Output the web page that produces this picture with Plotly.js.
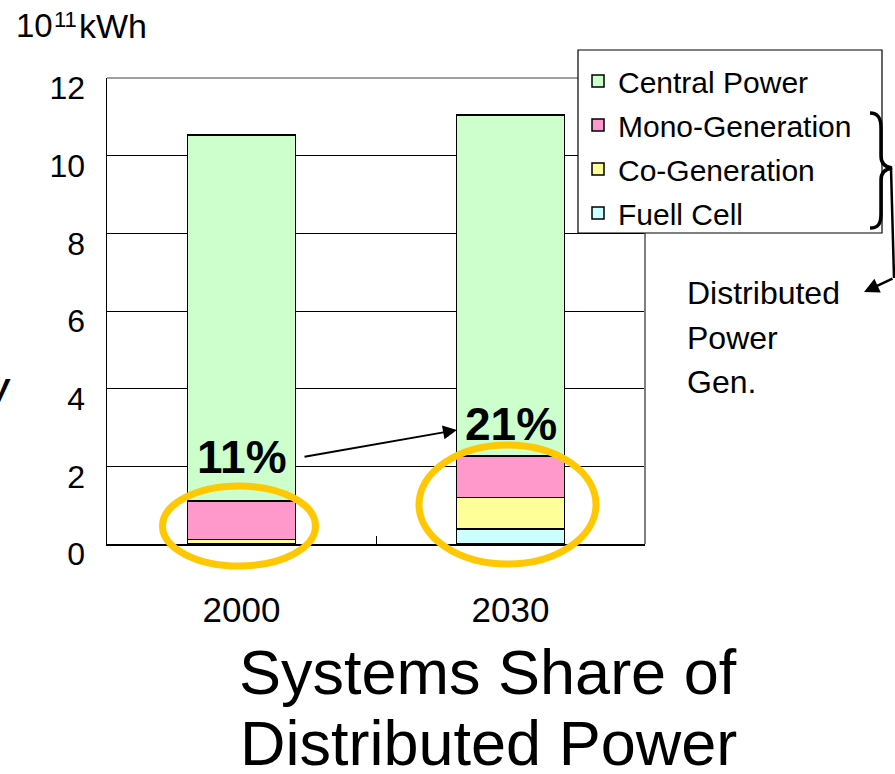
<!DOCTYPE html>
<html>
<head>
<meta charset="utf-8">
<script src="https://cdn.plot.ly/plotly-3.0.1.min.js"></script>
<style>html,body{margin:0;padding:0;background:#fff;}#chart{width:895px;height:774px;}</style>
</head>
<body>
<div id="chart"></div>
<script>
// ---- data ----
const years = ['2000', '2030'];
const fuelCell = [0.0, 0.38];
const coGeneration = [0.12, 0.82];
const monoGeneration = [0.99, 1.07];
const centralPower = [9.42, 8.78];
const seriesNames = ['Fuell Cell', 'Co-Generation', 'Mono-Generation', 'Central Power'];
const seriesColors = ['#CCFFFF', '#FFFF99', '#FF99CC', '#CCFFCC'];
const legendRanks = [4, 3, 2, 1];
const yTicks = [0, 2, 4, 6, 8, 10, 12];
const shareLabels = ['11%', '21%'];

// ---- layout helpers (pixel -> paper) ----
const L = 107, R = 645, T = 78, B = 544;
const px = x => (x - L) / (R - L);
const py = y => (B - y) / (B - T);
const FONT = 'Liberation Sans, Arial, sans-serif';

const values = [fuelCell, coGeneration, monoGeneration, centralPower];
const traces = values.map((v, i) => ({
  type: 'bar',
  x: years,
  y: v,
  name: seriesNames[i],
  legendgroup: 'g' + i,
  legendrank: legendRanks[i],
  marker: {color: seriesColors[i], line: {color: '#000', width: 1.5}},
  width: 0.4,
  hoverinfo: 'x+y+name'
}));

const ellipse = (x0, x1, y0, y1) => ({
  type: 'circle', xref: 'paper', yref: 'paper',
  x0: px(x0), x1: px(x1), y0: py(y1), y1: py(y0),
  line: {color: '#FFC800', width: 7}, layer: 'above'
});

const braceP = (pts) => pts.map(p => p[0] === 'C'
  ? 'C' + [px(p[1]), py(p[2]), px(p[3]), py(p[4]), px(p[5]), py(p[6])].join(',')
  : p[0] + px(p[1]) + ',' + py(p[2])).join(' ');

const bracePath = braceP([
  ['M', 870, 113], ['C', 878, 113, 881, 118, 881, 128], ['L', 881, 156],
  ['C', 881, 163, 885, 167, 892, 168], ['C', 885, 169, 881, 173, 881, 180],
  ['L', 881, 214], ['C', 881, 224, 878, 228, 870, 228]
]);

// bar centres in paper coords (category axis, range [-0.5, 1.5])
const catX = i => (i + 0.5) / years.length;

const layout = {
  width: 895, height: 774,
  margin: {l: L, r: 895 - R, t: T, b: 774 - B, pad: 0},
  paper_bgcolor: '#fff', plot_bgcolor: '#fff',
  barmode: 'stack',
  font: {family: FONT, color: '#000'},
  showlegend: true,
  legend: {
    x: px(578), y: py(55), xanchor: 'left', yanchor: 'top',
    borderwidth: 0, bgcolor: 'rgba(0,0,0,0)',
    font: {family: FONT, size: 30, color: '#000'},
    traceorder: 'grouped', tracegroupgap: 2,
    itemwidth: 30
  },
  xaxis: {
    type: 'category', range: [-0.5, 1.5],
    showline: true, linecolor: '#000', linewidth: 1.5,
    ticks: 'inside', tickson: 'boundaries', ticklen: 8, tickcolor: '#000',
    tickfont: {family: FONT, size: 35, color: '#000'},
    ticklabelstandoff: 34, showgrid: false, fixedrange: true
  },
  yaxis: {
    range: [0, 12], tickvals: yTicks, ticktext: yTicks.map(String),
    showline: true, linecolor: '#000', linewidth: 1.5,
    showgrid: true, gridcolor: '#000', gridwidth: 1,
    ticks: '', ticklabelstandoff: 14, ticklabelshift: 10,
    tickfont: {family: FONT, size: 32, color: '#000'},
    zeroline: false, fixedrange: true
  },
  shapes: [
    {type: 'line', xref: 'paper', yref: 'paper', x0: 0, x1: 1, y0: 1, y1: 1, line: {color: '#808080', width: 1.5}, layer: 'above'},
    {type: 'line', xref: 'paper', yref: 'paper', x0: 1, x1: 1, y0: 0, y1: 1, line: {color: '#808080', width: 2}, layer: 'above'},
    // legend frame
    {type: 'rect', xref: 'paper', yref: 'paper', x0: px(578), x1: px(882), y0: py(233), y1: py(50),
     fillcolor: '#fff', line: {color: '#000', width: 1.2}, layer: 'above'},
    ellipse(162.5, 315.5, 486, 566),
    ellipse(419, 596, 445, 564),
    {type: 'path', xref: 'paper', yref: 'paper', path: bracePath, line: {color: '#000', width: 3.5}, layer: 'above'},
    {type: 'line', xref: 'paper', yref: 'paper', x0: px(891), y0: py(168), x1: px(894), y1: py(278), line: {color: '#000', width: 2.5}}
  ],
  annotations: [
    {xref: 'paper', yref: 'paper', x: px(14), y: py(26), xanchor: 'left', yanchor: 'middle',
     text: '10', showarrow: false, font: {family: FONT, size: 33}},
    {xref: 'paper', yref: 'paper', x: px(52), y: py(20), xanchor: 'left', yanchor: 'middle',
     text: '11', showarrow: false, font: {family: FONT, size: 22}},
    {xref: 'paper', yref: 'paper', x: px(77), y: py(26), xanchor: 'left', yanchor: 'middle',
     text: 'kWh', showarrow: false, font: {family: FONT, size: 34}},
    {xref: 'paper', yref: 'paper', x: catX(0), y: py(457), xanchor: 'center', yanchor: 'middle',
     text: '<b>' + shareLabels[0] + '</b>', showarrow: false, font: {family: FONT, size: 46, color: '#000'}},
    {xref: 'paper', yref: 'paper', x: catX(1), y: py(424), xanchor: 'center', yanchor: 'middle',
     text: '<b>' + shareLabels[1] + '</b>', showarrow: false, font: {family: FONT, size: 46, color: '#000'}},
    {xref: 'paper', yref: 'paper', x: px(457), y: py(430), ax: 303 - 457, ay: 457 - 430,
     text: '', showarrow: true, arrowhead: 2, arrowsize: 1.4,
     arrowwidth: 2, arrowcolor: '#000', standoff: 0, startstandoff: 0},
    {xref: 'paper', yref: 'paper', x: px(864), y: py(292), ax: 30, ay: -14,
     text: '', showarrow: true, arrowhead: 2, arrowsize: 1.2, arrowwidth: 2.5, arrowcolor: '#000'},
    {xref: 'paper', yref: 'paper', x: px(685), y: py(293), xanchor: 'left', yanchor: 'middle',
     text: 'Distributed', showarrow: false, font: {family: FONT, size: 32}},
    {xref: 'paper', yref: 'paper', x: px(685), y: py(338), xanchor: 'left', yanchor: 'middle',
     text: 'Power', showarrow: false, font: {family: FONT, size: 32}},
    {xref: 'paper', yref: 'paper', x: px(685), y: py(382), xanchor: 'left', yanchor: 'middle',
     text: 'Gen.', showarrow: false, font: {family: FONT, size: 32}},
    {xref: 'paper', yref: 'paper', x: px(488), y: py(672), xanchor: 'center', yanchor: 'middle',
     text: 'Systems Share of', showarrow: false, font: {family: FONT, size: 63}},
    {xref: 'paper', yref: 'paper', x: px(488), y: py(743), xanchor: 'center', yanchor: 'middle',
     text: 'Distributed Power', showarrow: false, font: {family: FONT, size: 63}},
    {xref: 'paper', yref: 'paper', x: px(13), y: py(390), xanchor: 'right', yanchor: 'middle',
     text: '<b><i>W</i></b>', showarrow: false, font: {family: FONT, size: 34}}
  ]
};

Plotly.newPlot('chart', traces, layout, {displayModeBar: false, staticPlot: true});
</script>
</body>
</html>
